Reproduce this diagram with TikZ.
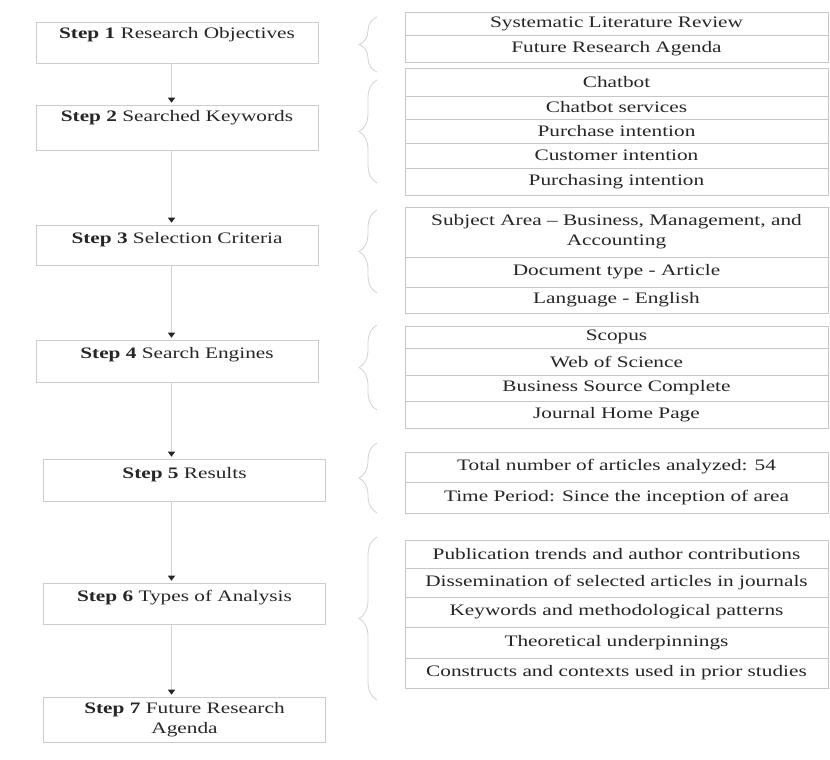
\documentclass[tikz,border=0pt]{standalone}
\usepackage{fontspec}
\setmainfont{Liberation Serif}[FakeStretch=1.33]
\usetikzlibrary{arrows.meta,decorations.pathreplacing}

\tikzset{
  stepbox/.style={draw=gray!40,line width=0.6pt,minimum width=282pt,minimum height=41pt,inner sep=0pt},
  steptext/.style={font=\fontsize{16}{20}\selectfont,text=black!85,inner sep=0pt,align=center},
  rowbox/.style={draw=gray!45,line width=0.6pt,minimum width=423pt,inner sep=0pt,align=center,
    font=\fontsize{16}{20}\selectfont,text=black!85},
  flowarrow/.style={draw=gray!35,line width=0.7pt,-{Triangle[width=7pt,length=5pt,color=black!85]},shorten >=2pt},
  bracestyle/.style={draw=gray!35,line width=0.8pt,decorate,decoration={brace,amplitude=18pt}}
}

\begin{document}
\begin{tikzpicture}[x=1pt,y=-1pt]

    \fill[white] (0,0) rectangle (830,760);

    %==================== Steps (left column) ====================
    \node[stepbox] (s1) at (177,42.5) {};
    \node[stepbox,minimum height=45pt] (s2) at (177,127.5) {};
    \node[stepbox,minimum height=40pt] (s3) at (177,245) {};
    \node[stepbox,minimum height=42pt] (s4) at (177,361) {};
    \node[stepbox,minimum height=42pt] (s5) at (184.5,480) {};
    \node[stepbox] (s6) at (184.5,603.5) {};
    \node[stepbox,minimum height=45pt] (s7) at (184.5,719.5) {};

    % Step labels, near the top of each box
    \node[steptext] (t1) at ([yshift=-13pt]s1.north) {\textbf{Step 1} Research Objectives};
    \node[steptext] (t2) at ([yshift=-13pt]s2.north) {\textbf{Step 2} Searched Keywords};
    \node[steptext] (t3) at ([yshift=-15pt]s3.north) {\textbf{Step 3} Selection Criteria};
    \node[steptext] (t4) at ([yshift=-15pt]s4.north) {\textbf{Step 4} Search Engines};
    \node[steptext] (t5) at ([yshift=-16pt]s5.north) {\textbf{Step 5} Results};
    \node[steptext] (t6) at ([yshift=-15pt]s6.north) {\textbf{Step 6} Types of Analysis};
    \node[steptext] (t7) at (s7.center) {\textbf{Step 7} Future Research\\Agenda};

    % Flow arrows
    \coordinate (ax) at (171.5,0);
    \foreach \i/\j in {1/2,2/3,3/4,4/5,5/6,6/7} {
      \draw[flowarrow] (s\i.south -| ax) -- (s\j.north -| ax);
    }

    %==================== Details (right column) ====================
    \foreach \nm/\yc/\hh/\txt in {
      r1a/23.5/23/{Systematic Literature Review},
      r1b/48.5/27/{Future Research Agenda},
      r2a/82/28/{Chatbot},
      r2b/107.5/23/{Chatbot services},
      r2c/131/24/{Purchase intention},
      r2d/155.5/25/{Customer intention},
      r2e/181.5/27/{Purchasing intention},
      r3a/232/50/{Subject Area -- Business, Management, and\\Accounting},
      r3b/272/30/{Document type - Article},
      r3c/300/26/{Language - English},
      r4a/337/22/{Scopus},
      r4b/361.5/27/{Web of Science},
      r4c/388/26/{Business Source Complete},
      r4d/414.5/27/{Journal Home Page},
      r5a/467/30/{Total number of articles analyzed: 54},
      r5b/497.5/31/{Time Period: Since the inception of area},
      r6a/554/28/{Publication trends and author contributions},
      r6b/582.5/29/{Dissemination of selected articles in journals},
      r6c/612/30/{Keywords and methodological patterns},
      r6d/642.5/31/{Theoretical underpinnings},
      r6e/673/30/{Constructs and contexts used in prior studies}} {
      \node[rowbox,minimum height=\hh pt] (\nm) at (616.5,\yc) {\txt};
    }

    % Braces grouping each step's details
    \foreach \yt/\yb in {17/72,80/183,210/293,325/410,443/513,537/700} {
      \draw[bracestyle] (377,\yb) -- (377,\yt);
    }

\end{tikzpicture}
\end{document}
